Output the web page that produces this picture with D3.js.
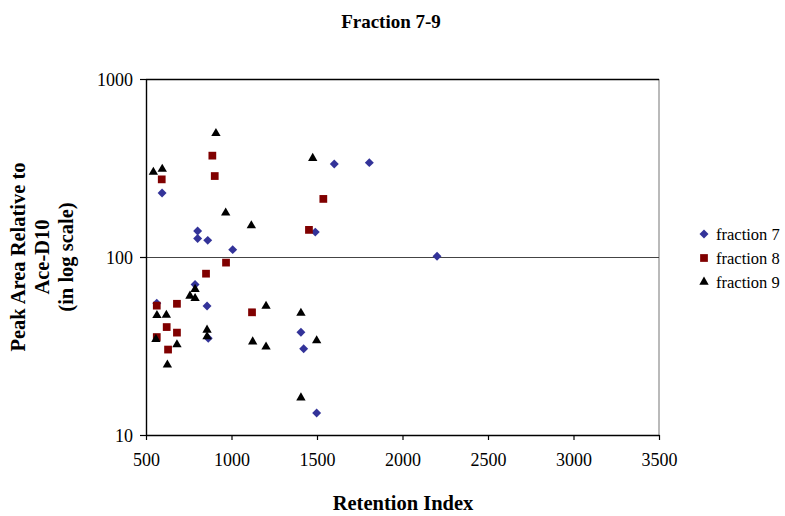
<!DOCTYPE html>
<html>
<head>
<meta charset="utf-8">
<script src="https://cdn.jsdelivr.net/npm/d3@7"></script>
<style>
  html, body { margin: 0; padding: 0; background: #fff; }
  svg, svg text { font-family: "Liberation Serif", "Times New Roman", serif; }
</style>
</head>
<body>
<svg id="chart" width="785" height="516"></svg>
<script>
// Retention index (x) and peak area relative to Ace-D10 (y) per fraction
const fraction7X = [594, 802, 802, 861, 1007, 787, 857, 563, 864, 1601, 1806, 1490, 1406, 1422, 1498, 2202];
const fraction7Y = [229, 140, 127, 124, 110, 70, 53, 55, 35, 333, 339, 138, 37.8, 30.5, 13.3, 101];

const fraction8X = [888, 902, 592, 968, 851, 563, 681, 1120, 621, 681, 563, 629, 1537, 1453];
const fraction8Y = [371, 285, 273, 93, 80.6, 53.3, 54.6, 48.9, 40.4, 37.6, 35.5, 30.2, 212, 142];

const fraction9X = [543, 595, 909, 966, 1116, 1475, 787, 757, 787, 564, 619, 1202, 857, 857, 558, 681, 1124, 1202, 625, 1406, 1498, 1406];
const fraction9Y = [300, 312, 495, 177, 150, 359, 65.9, 60.4, 58.6, 47, 47.2, 53, 38.9, 35.7, 34.5, 32.2, 33.4, 31.3, 24.8, 48.4, 33.9, 16.2];

const xTicks = [500, 1000, 1500, 2000, 2500, 3000, 3500];
const yTicks = [10, 100, 1000];

const seriesNames = ["fraction 7", "fraction 8", "fraction 9"];

const serif = '"Liberation Serif", "Times New Roman", serif';
const svg = d3.select("#chart");
const plotLeft = 146, plotRight = 659, plotTop = 79, plotBottom = 435;

const x = d3.scaleLinear().domain([500, 3500]).range([plotLeft, plotRight]);
const y = d3.scaleLog().domain([10, 1000]).range([plotBottom, plotTop]);

// plot frame: grey right edge, gridlines at each decade
svg.append("line")
  .attr("x1", plotRight).attr("x2", plotRight).attr("y1", plotTop).attr("y2", plotBottom)
  .attr("stroke", "#8c8c8c").attr("stroke-width", 1.2);
svg.append("g").selectAll("line").data(yTicks).join("line")
  .attr("x1", plotLeft).attr("x2", plotRight)
  .attr("y1", d => Math.round(y(d)) + 0.5).attr("y2", d => Math.round(y(d)) + 0.5)
  .attr("stroke", d => d === 1000 ? "#000" : "#444")
  .attr("stroke-width", d => d === 1000 ? 1.6 : 1.1);

// axes
const xAxis = svg.append("g")
  .attr("transform", `translate(0,${plotBottom})`)
  .call(d3.axisBottom(x).tickValues(xTicks).tickSize(5).tickSizeOuter(0).tickPadding(13).tickFormat(d3.format("d")));
const yAxis = svg.append("g")
  .attr("transform", `translate(${plotLeft},0)`)
  .call(d3.axisLeft(y).tickValues(yTicks).tickSize(6).tickSizeOuter(0).tickPadding(7).tickFormat(d3.format("d")));

[xAxis, yAxis].forEach(g => {
  g.attr("font-family", null).style("font-family", serif);
  g.select(".domain").attr("stroke", "#000").attr("stroke-width", 1.4);
  g.selectAll(".tick line").attr("stroke", "#000").attr("stroke-width", 1.2);
  g.selectAll(".tick text")
    .style("font-family", serif)
    .style("font-size", "18px").attr("fill", "#000");
});
yAxis.selectAll(".tick text").attr("dy", "0.35em");

// markers
const diamond = d3.symbol().type(d3.symbolSquare).size(40);
const square = d3.symbol().type(d3.symbolSquare).size(60);
const triangle = d3.symbol().type(d3.symbolTriangle).size(38);

const series = [
  { xs: fraction7X, ys: fraction7Y, path: diamond(), rot: 45, fill: "#333399" },
  { xs: fraction8X, ys: fraction8Y, path: square(), rot: 0, fill: "#800000" },
  { xs: fraction9X, ys: fraction9Y, path: triangle(), rot: 0, fill: "#000000" }
];

series.forEach(s => {
  svg.append("g").selectAll("path").data(d3.zip(s.xs, s.ys)).join("path")
    .attr("d", s.path)
    .attr("transform", d => `translate(${x(d[0])},${y(d[1])}) rotate(${s.rot})`)
    .attr("fill", s.fill);
});

// legend
const legend = svg.append("g").attr("transform", "translate(704,234)");
seriesNames.forEach((name, i) => {
  const row = legend.append("g").attr("transform", `translate(0,${i * 24})`);
  row.append("path")
    .attr("d", series[i].path)
    .attr("transform", `rotate(${series[i].rot})`)
    .attr("fill", series[i].fill);
  row.append("text")
    .attr("x", 12).attr("y", 5.5)
    .style("font-family", serif).style("font-size", "16.5px").attr("fill", "#000")
    .text(name);
});

// titles
svg.append("text")
  .attr("x", 391).attr("y", 28)
  .attr("text-anchor", "middle")
  .style("font-family", serif).style("font-size", "19px").style("font-weight", "bold")
  .text("Fraction 7-9");

svg.append("text")
  .attr("x", 403).attr("y", 510)
  .attr("text-anchor", "middle")
  .style("font-family", serif).style("font-size", "20.5px").style("font-weight", "bold")
  .text("Retention Index");

const yTitle = svg.append("text")
  .attr("transform", "translate(42,257) rotate(-90)")
  .attr("text-anchor", "middle")
  .style("font-family", serif).style("font-size", "20.5px").style("font-weight", "bold");
["Peak Area Relative to", "Ace-D10", "(in log scale)"].forEach((line, i) => {
  yTitle.append("tspan")
    .attr("x", 0).attr("y", (i - 1) * 24 + 7)
    .text(line);
});
</script>
</body>
</html>
